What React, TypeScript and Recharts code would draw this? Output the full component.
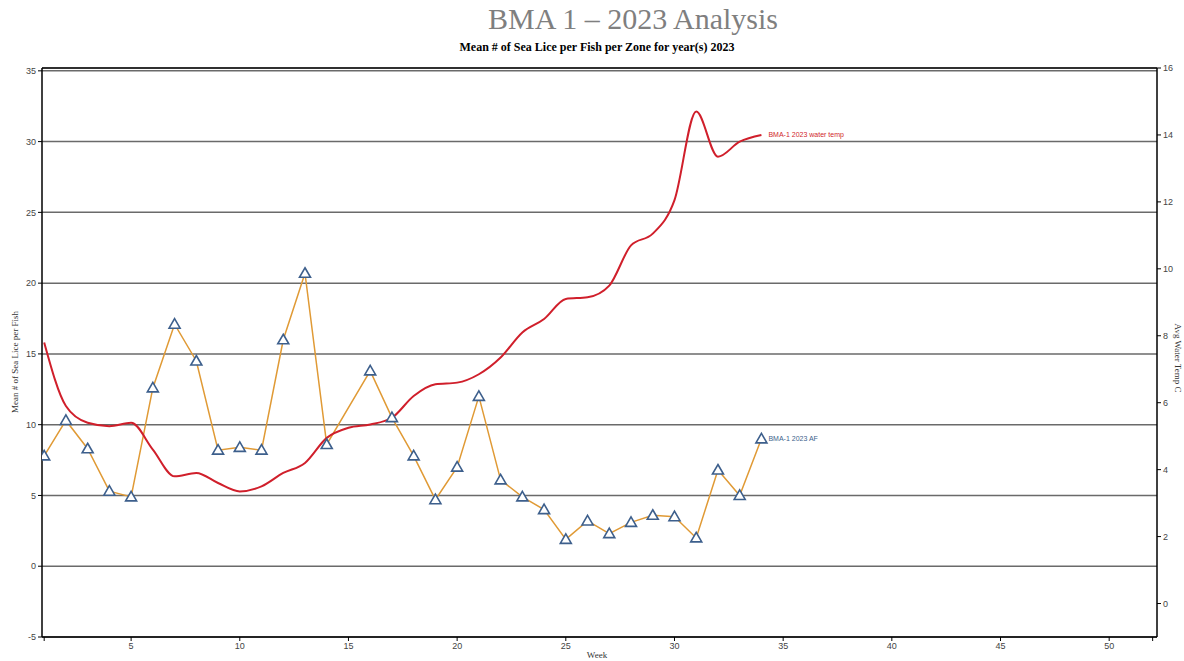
import { ComposedChart, Line, XAxis, YAxis, CartesianGrid, ReferenceLine } from 'recharts';

// weeks of 2023 with readings
const weeks = [1, 2, 3, 4, 5, 6, 7, 8, 9, 10, 11, 12, 13, 14, 15, 16, 17, 18, 19, 20, 21, 22, 23, 24, 25, 26, 27, 28, 29, 30, 31, 32, 33, 34];

// mean # of sea lice per fish (AF), week 15 not sampled
const afValues = [7.8, 10.3, 8.3, 5.3, 4.9, 12.6, 17.1, 14.5, 8.2, 8.4, 8.2, 16.0, 20.7, 8.6, null, 13.8, 10.5, 7.8, 4.7, 7.0, 12.0, 6.1, 4.9, 4.0, 1.9, 3.2, 2.3, 3.1, 3.6, 3.5, 2.0, 6.8, 5.0, 9.0];

// avg water temp C
const waterTemp = [7.8, 5.9, 5.4, 5.3, 5.4, 4.6, 3.8, 3.9, 3.6, 3.35, 3.5, 3.9, 4.2, 4.95, 5.25, 5.35, 5.55, 6.2, 6.55, 6.6, 6.85, 7.35, 8.1, 8.5, 9.1, 9.15, 9.5, 10.7, 11.05, 12.05, 14.7, 13.35, 13.8, 14.0];

const weekTicks = [1, 5, 10, 15, 20, 25, 30, 35, 40, 45, 50, 52];
const liceTicks = [-5, 0, 5, 10, 15, 20, 25, 30, 35];
const tempTicks = [0, 2, 4, 6, 8, 10, 12, 14, 16];

const data = weeks.map((week, i) => ({
  week,
  af: afValues[i],
  temp: waterTemp[i],
}));

const lastIndex = weeks.length - 1;

const Triangle = (props: any) => {
  const { cx, cy, value } = props;
  if (cx == null || cy == null || value == null) return null;
  return (
    <path
      d={`M${cx},${cy - 5.5} L${cx + 5.5},${cy + 4} L${cx - 5.5},${cy + 4} Z`}
      fill="#fff"
      stroke="#3d5f8c"
      strokeWidth={1.6}
    />
  );
};

const endLabel = (text: string, color: string) => (props: any) => {
  const { x, y, index } = props;
  if (index !== lastIndex) return null;
  return (
    <text x={x + 7} y={y} dy={2.5} fontSize={7} fill={color} fontFamily="Liberation Sans, Arial, sans-serif">
      {text}
    </text>
  );
};

const tickStyle = { fontSize: 9, fill: '#444', fontFamily: 'Liberation Sans, Arial, sans-serif' };
const serif = 'Liberation Serif, Times New Roman, serif';

export default function App() {
  return (
    <div style={{ position: 'absolute', left: 0, top: 0, width: 1184, height: 661, background: '#fff' }}>
      <div
        style={{
          position: 'absolute', top: 2, left: 633, transform: 'translateX(-50%)', whiteSpace: 'nowrap',
          fontFamily: serif, fontSize: 30, lineHeight: '34px', color: '#7f7f7f',
        }}
      >
        BMA 1 – 2023 Analysis
      </div>
      <div
        style={{
          position: 'absolute', top: 40, left: 597, transform: 'translateX(-50%)', whiteSpace: 'nowrap',
          fontFamily: serif, fontSize: 12, fontWeight: 'bold', lineHeight: '14px', color: '#000',
        }}
      >
        Mean # of Sea Lice per Fish per Zone for year(s) 2023
      </div>

      <ComposedChart
        width={1184}
        height={661}
        data={data}
        margin={{ top: 68, right: 5, left: 12, bottom: 4 }}
      >
        <CartesianGrid vertical={false} stroke="#6a6a6a" strokeWidth={1.5} yAxisId="left" />
        <XAxis
          dataKey="week"
          type="number"
          domain={[0.9, 52.2]}
          allowDataOverflow
          ticks={weekTicks}
          tickFormatter={(v) => (v === 1 || v === 52 ? '' : String(v))}
          height={20}
          tick={tickStyle}
          tickSize={4}
          axisLine={{ stroke: '#000', strokeWidth: 1.5 }}
          tickLine={{ stroke: '#000' }}
        />
        <YAxis
          yAxisId="left"
          domain={[-5, 35.2]}
          allowDataOverflow
          ticks={liceTicks}
          width={30}
          tick={tickStyle}
          tickSize={4}
          axisLine={{ stroke: '#000', strokeWidth: 1.5 }}
          tickLine={{ stroke: '#000' }}
        />
        <YAxis
          yAxisId="right"
          orientation="right"
          domain={[-1, 16]}
          allowDataOverflow
          ticks={tempTicks}
          width={22}
          tick={tickStyle}
          tickSize={4}
          axisLine={{ stroke: '#000', strokeWidth: 1.5 }}
          tickLine={{ stroke: '#000' }}
        />
        <ReferenceLine yAxisId="right" y={16} stroke="#111" strokeWidth={1.5} />
        <Line
          yAxisId="left"
          dataKey="af"
          type="linear"
          stroke="#e09a35"
          strokeWidth={1.5}
          connectNulls
          dot={<Triangle />}
          activeDot={false}
          label={endLabel('BMA-1 2023 AF', '#3d5f8c')}
          isAnimationActive={false}
        />
        <Line
          yAxisId="right"
          dataKey="temp"
          type="monotone"
          stroke="#d01f2b"
          strokeWidth={2}
          dot={false}
          activeDot={false}
          label={endLabel('BMA-1 2023 water temp', '#d01f2b')}
          isAnimationActive={false}
        />
      </ComposedChart>

      <div
        style={{
          position: 'absolute', top: 650, left: 597, transform: 'translateX(-50%)', whiteSpace: 'nowrap',
          fontFamily: serif, fontSize: 9, lineHeight: '11px', color: '#333',
        }}
      >
        Week
      </div>
      <div
        style={{
          position: 'absolute', top: 362, left: 15, transform: 'translate(-50%, -50%) rotate(-90deg)', whiteSpace: 'nowrap',
          fontFamily: serif, fontSize: 9, lineHeight: '11px', color: '#333',
        }}
      >
        Mean # of Sea Lice per Fish
      </div>
      <div
        style={{
          position: 'absolute', top: 358, left: 1177, transform: 'translate(-50%, -50%) rotate(90deg)', whiteSpace: 'nowrap',
          fontFamily: serif, fontSize: 9, lineHeight: '11px', color: '#333',
        }}
      >
        Avg Water Temp C
      </div>
    </div>
  );
}
